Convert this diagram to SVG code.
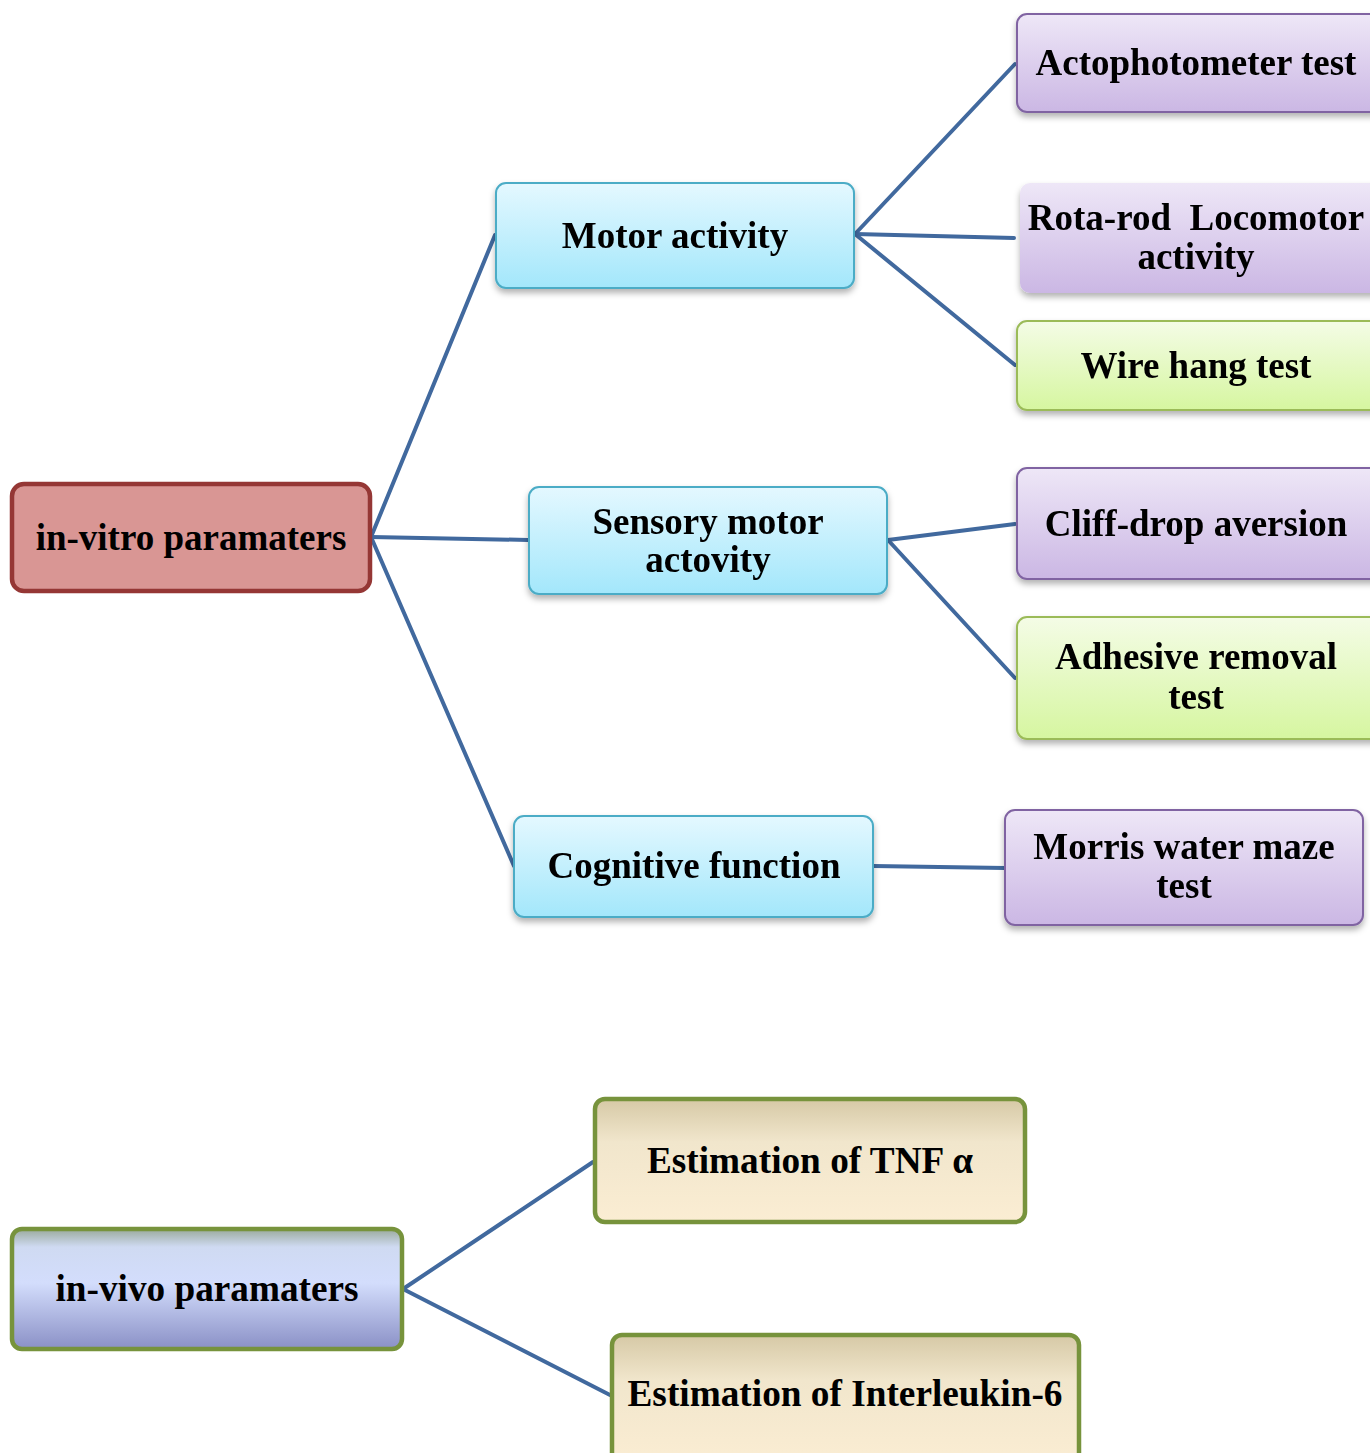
<svg xmlns="http://www.w3.org/2000/svg" width="1370" height="1453" viewBox="0 0 1370 1453">
<defs>
<linearGradient id="gBlue" x1="0" y1="0" x2="0" y2="1"><stop offset="0" stop-color="#e4f8ff"/><stop offset="1" stop-color="#a3e7fb"/></linearGradient>
<linearGradient id="gPurple" x1="0" y1="0" x2="0" y2="1"><stop offset="0" stop-color="#eee7f7"/><stop offset="1" stop-color="#cbb7e4"/></linearGradient>
<linearGradient id="gGreen" x1="0" y1="0" x2="0" y2="1"><stop offset="0" stop-color="#f4fce6"/><stop offset="1" stop-color="#d6f6a0"/></linearGradient>
<linearGradient id="gTan" x1="0" y1="0" x2="0" y2="1"><stop offset="0" stop-color="#d6c9a6"/><stop offset="0.35" stop-color="#f1e6cc"/><stop offset="1" stop-color="#fbedd3"/></linearGradient>
<linearGradient id="gVivo" x1="0" y1="0" x2="0" y2="1"><stop offset="0" stop-color="#9aaa9c"/><stop offset="0.15" stop-color="#cfdaf2"/><stop offset="0.45" stop-color="#d3ddfc"/><stop offset="1" stop-color="#8a90c6"/></linearGradient>
<filter id="sh" x="-10%" y="-10%" width="130%" height="140%"><feDropShadow dx="0" dy="4" stdDeviation="3" flood-color="#000" flood-opacity="0.3"/></filter>
</defs>
<style>
.t{font-family:"Liberation Serif","Times New Roman",serif;font-weight:bold;font-size:37px;fill:#000;text-anchor:middle}
.c{stroke:#41699e;stroke-width:4;fill:none;stroke-linecap:round}
.blue{fill:url(#gBlue);stroke:#4bacc6;stroke-width:2}
.purple{fill:url(#gPurple);stroke:#8064a2;stroke-width:2}
.green{fill:url(#gGreen);stroke:#9bbb59;stroke-width:2}
.tan{fill:url(#gTan);stroke:#77933c;stroke-width:4.5}
</style>
<rect width="1370" height="1453" fill="#fff"/>
<g id="connectors">
<line class="c" x1="371" y1="537" x2="495" y2="235"/>
<line class="c" x1="371" y1="537" x2="528" y2="540"/>
<line class="c" x1="371" y1="537" x2="514" y2="866"/>
<line class="c" x1="855" y1="234" x2="1015" y2="64"/>
<line class="c" x1="855" y1="234" x2="1014" y2="238"/>
<line class="c" x1="855" y1="234" x2="1015" y2="365"/>
<line class="c" x1="888" y1="540" x2="1015" y2="524"/>
<line class="c" x1="888" y1="540" x2="1015" y2="678"/>
<line class="c" x1="873" y1="866" x2="1005" y2="868"/>
<line class="c" x1="403" y1="1289" x2="593" y2="1162"/>
<line class="c" x1="403" y1="1289" x2="610" y2="1395"/>
</g>
<g id="invitro">
<rect x="12" y="484" width="358" height="107" rx="12" fill="#d99694" stroke="#953735" stroke-width="4.5"/>
<text class="t" x="191" y="550">in-vitro paramaters</text>
</g>
<g id="motor" filter="url(#sh)">
<rect class="blue" x="496" y="183" width="358" height="105" rx="10"/>
<text class="t" x="675" y="248">Motor activity</text>
</g>
<g id="sensory" filter="url(#sh)">
<rect class="blue" x="529" y="487" width="358" height="107" rx="10"/>
<text class="t" x="708" y="534">Sensory motor</text>
<text class="t" x="708" y="572">actovity</text>
</g>
<g id="cognitive" filter="url(#sh)">
<rect class="blue" x="514" y="816" width="359" height="101" rx="10"/>
<text class="t" x="694" y="878">Cognitive function</text>
</g>
<g id="acto" filter="url(#sh)">
<rect class="purple" x="1017" y="14" width="370" height="98" rx="10"/>
<text class="t" x="1196" y="75">Actophotometer test</text>
</g>
<g id="rotarod" filter="url(#sh)">
<rect x="1020" y="183" width="370" height="110" rx="10" fill="url(#gPurple)"/>
<text class="t" x="1196" y="230">Rota-rod&#160; Locomotor</text>
<text class="t" x="1196" y="269">activity</text>
</g>
<g id="wire" filter="url(#sh)">
<rect class="green" x="1017" y="321" width="370" height="89" rx="10"/>
<text class="t" x="1196" y="378">Wire hang test</text>
</g>
<g id="cliff" filter="url(#sh)">
<rect class="purple" x="1017" y="468" width="370" height="111" rx="10"/>
<text class="t" x="1196" y="536">Cliff-drop aversion</text>
</g>
<g id="adhesive" filter="url(#sh)">
<rect class="green" x="1017" y="617" width="370" height="122" rx="10"/>
<text class="t" x="1196" y="669">Adhesive removal</text>
<text class="t" x="1196" y="709">test</text>
</g>
<g id="morris" filter="url(#sh)">
<rect class="purple" x="1005" y="810" width="358" height="115" rx="10"/>
<text class="t" x="1184" y="859">Morris water maze</text>
<text class="t" x="1184" y="898">test</text>
</g>
<g id="invivo">
<rect x="12" y="1229" width="390" height="120" rx="10" fill="url(#gVivo)" stroke="#77933c" stroke-width="4.5"/>
<text class="t" x="207" y="1301" textLength="303" lengthAdjust="spacingAndGlyphs">in-vivo paramaters</text>
</g>
<g id="tnf">
<rect class="tan" x="595" y="1099" width="430" height="123" rx="10"/>
<text class="t" x="810" y="1173" textLength="326" lengthAdjust="spacingAndGlyphs">Estimation of TNF α</text>
</g>
<g id="il6">
<rect class="tan" x="612" y="1335" width="467" height="130" rx="10"/>
<text class="t" x="845" y="1406" textLength="435" lengthAdjust="spacingAndGlyphs">Estimation of Interleukin-6</text>
</g>
</svg>
